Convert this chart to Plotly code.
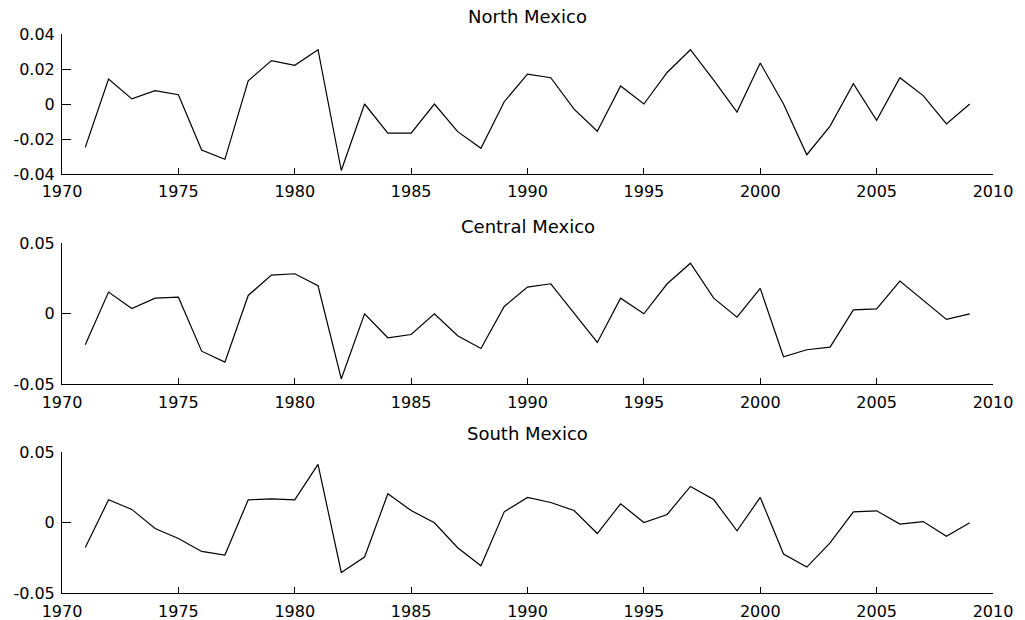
import plotly.graph_objects as go

years = list(range(1971, 2010))

north = [-0.0248, 0.0143, 0.0029, 0.0076, 0.0053, -0.0263, -0.0316, 0.0133, 0.0248, 0.0221,
         0.0310, -0.0380, 0.0000, -0.0166, -0.0166, 0.0000, -0.0158, -0.0253, 0.0013, 0.0171,
         0.0150, -0.0029, -0.0156, 0.0103, 0.0000, 0.0180, 0.0310, 0.0137, -0.0046, 0.0234,
         0.0000, -0.0290, -0.0126, 0.0116, -0.0093, 0.0150, 0.0048, -0.0114, 0.0000]

central = [-0.0220, 0.0154, 0.0038, 0.0111, 0.0118, -0.0265, -0.0343, 0.0130, 0.0274, 0.0284,
           0.0199, -0.0461, 0.0000, -0.0170, -0.0147, 0.0000, -0.0156, -0.0246, 0.0052, 0.0189,
           0.0213, 0.0005, -0.0203, 0.0111, 0.0000, 0.0213, 0.0359, 0.0111, -0.0024, 0.0180,
           -0.0305, -0.0255, -0.0236, 0.0028, 0.0035, 0.0232, 0.0097, -0.0040, 0.0000]

south = [-0.0175, 0.0163, 0.0095, -0.0040, -0.0111, -0.0203, -0.0229, 0.0163, 0.0170, 0.0163,
         0.0414, -0.0352, -0.0243, 0.0206, 0.0087, 0.0000, -0.0177, -0.0305, 0.0078, 0.0180,
         0.0144, 0.0087, -0.0076, 0.0135, 0.0002, 0.0059, 0.0258, 0.0165, -0.0057, 0.0180,
         -0.0222, -0.0314, -0.0142, 0.0078, 0.0085, -0.0009, 0.0009, -0.0095, 0.0000]

titles = ["North Mexico", "Central Mexico", "South Mexico"]
series = [north, central, south]

x_ticks = [1970, 1975, 1980, 1985, 1990, 1995, 2000, 2005, 2010]
y_ranges = [[-0.04, 0.04], [-0.05, 0.05], [-0.05, 0.05]]
y_tickvals = [[-0.04, -0.02, 0, 0.02, 0.04], [-0.05, 0, 0.05], [-0.05, 0, 0.05]]
y_ticktext = [["-0.04", "-0.02", "0", "0.02", "0.04"], ["-0.05", "0", "0.05"], ["-0.05", "0", "0.05"]]

H = 620.0
# pixel top/bottom of each panel
panel_px = [(34, 174), (243.3, 384.3), (452.3, 593.3)]
title_px = [16.5, 226, 433]

FONT = "DejaVu Sans"

fig = go.Figure()
layout = dict(
    template="none",
    width=1025, height=620, autosize=False,
    margin=dict(l=62, r=32, t=0, b=0, pad=0, autoexpand=False),
    paper_bgcolor="white", plot_bgcolor="white",
    showlegend=False,
    font=dict(family=FONT, size=16, color="black"),
    annotations=[],
)

for i, (name, vals) in enumerate(zip(titles, series)):
    n = i + 1
    xa = "x" if n == 1 else f"x{n}"
    ya = "y" if n == 1 else f"y{n}"
    fig.add_trace(go.Scatter(x=years, y=vals, mode="lines",
                             line=dict(color="black", width=1.2),
                             xaxis=xa, yaxis=ya, hoverinfo="skip"))
    top, bot = panel_px[i]
    layout[f"xaxis{'' if n == 1 else n}"] = dict(
        domain=[0, 1], anchor=ya, range=[1970, 2010], automargin=False,
        tickvals=x_ticks, ticktext=[str(t) for t in x_ticks],
        ticks="inside", ticklen=6, tickwidth=1, tickcolor="black",
        ticklabelstandoff=3,
        showline=True, linecolor="black", linewidth=1, mirror=False,
        showgrid=False, zeroline=False,
        tickfont=dict(family=FONT, size=16, color="black"),
    )
    layout[f"yaxis{'' if n == 1 else n}"] = dict(
        domain=[1 - bot / H, 1 - top / H], anchor=xa, range=y_ranges[i], automargin=False,
        tickvals=y_tickvals[i], ticktext=y_ticktext[i],
        ticks="inside", ticklen=9, tickwidth=1, tickcolor="black",
        ticklabelstandoff=3,
        showline=True, linecolor="black", linewidth=1, mirror=False,
        showgrid=False, zeroline=False,
        tickfont=dict(family=FONT, size=16, color="black"),
    )
    layout["annotations"].append(dict(
        text=name, xref="paper", yref="paper", x=0.5, y=1 - title_px[i] / H,
        xanchor="center", yanchor="middle", showarrow=False,
        font=dict(family=FONT, size=18, color="black"),
    ))

fig.update_layout(**layout)
fig.write_html("out.html")
